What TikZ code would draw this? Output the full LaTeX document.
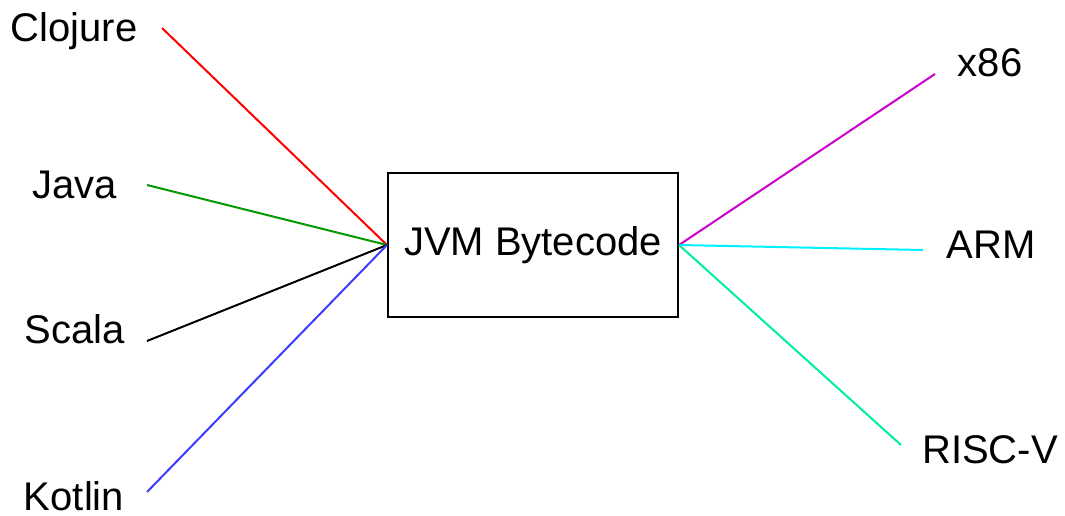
\documentclass[tikz,border=0pt]{standalone}
\usepackage{fontspec}
\setmainfont{Liberation Sans}
\definecolor{javagreen}{RGB}{0,153,0}
\definecolor{kotlinblue}{RGB}{60,60,255}
\definecolor{x86magenta}{RGB}{204,0,204}
\definecolor{armcyan}{RGB}{0,240,255}
\definecolor{riscgreen}{RGB}{0,240,150}
\begin{document}
\begin{tikzpicture}[x=1pt,y=-1pt,
  lang/.style={inner sep=0pt,anchor=base,font=\fontsize{40}{48}\selectfont},
  wire/.style={line width=2pt},
  vmbox/.style={draw,line width=2pt,minimum width=290pt,minimum height=144pt,
    font=\fontsize{40}{48}\selectfont}]
\useasboundingbox (0,0) rectangle (1065,516);

% central box
\node[vmbox] (jvm) at (533,245) {JVM Bytecode};

% source languages
\node[lang] (clojure) at (74,42) {Clojure};
\node[lang] (java) at (75,198) {Java};
\node[lang] (scala) at (75,343) {Scala};
\node[lang] (kotlin) at (74,510) {Kotlin};

% target architectures
\node[lang] (x86) at (990,77) {x86};
\node[lang] (arm) at (991,258) {ARM};
\node[lang] (riscv) at (990,463) {RISC-V};

% free ends of the connectors beside each label
\coordinate (cClojure) at (162,28);
\coordinate (cJava) at (147,185);
\coordinate (cScala) at (147,341);
\coordinate (cKotlin) at (147,492);
\coordinate (cX86) at (935,74);
\coordinate (cArm) at (923,250);
\coordinate (cRiscv) at (901,445);

\draw[wire,red] (cClojure) -- (jvm.west);
\draw[wire,javagreen] (cJava) -- (jvm.west);
\draw[wire,black] (cScala) -- (jvm.west);
\draw[wire,kotlinblue] (cKotlin) -- (jvm.west);

\draw[wire,x86magenta] (jvm.east) -- (cX86);
\draw[wire,armcyan] (jvm.east) -- (cArm);
\draw[wire,riscgreen] (jvm.east) -- (cRiscv);
\end{tikzpicture}
\end{document}
